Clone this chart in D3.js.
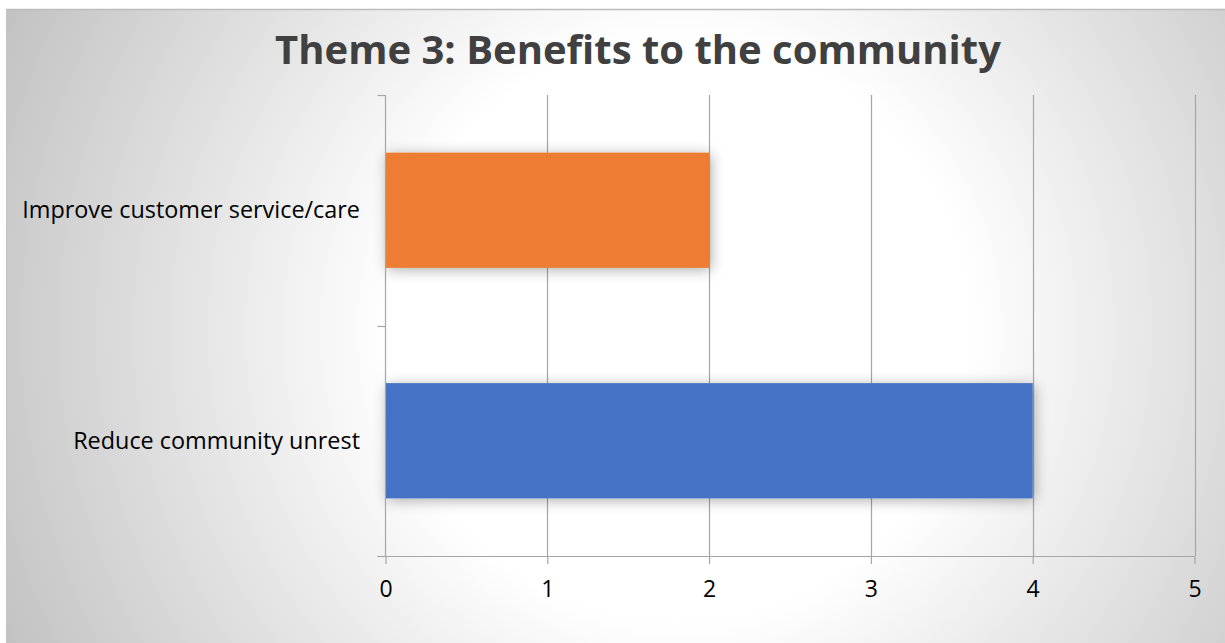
<!DOCTYPE html>
<html>
<head>
<meta charset="utf-8">
<script src="https://cdn.jsdelivr.net/npm/d3@7"></script>
<style>
  html, body { margin: 0; padding: 0; background: #ffffff; }
  svg { display: block; }
</style>
</head>
<body>
<svg id="chart" width="1225" height="643"></svg>
<script>
// Chart data
const title = "Theme 3: Benefits to the community";
const categories = ["Improve customer service/care", "Reduce community unrest"];
const values = [2, 4];
const barColors = ["#ED7D31", "#4472C4"];
const xTicks = [0, 1, 2, 3, 4, 5];

const W = 1225, H = 643;
const frame = { left: 6, top: 9 };
const plot = { left: 385.5, right: 1194.5, top: 95, bottom: 556 };

const svg = d3.select("#chart");
const defs = svg.append("defs");

// Soft radial backdrop: white around the plot, grey towards the corners
const grad = defs.append("radialGradient")
  .attr("id", "bg")
  .attr("gradientUnits", "userSpaceOnUse")
  .attr("cx", 680).attr("cy", 330).attr("r", 760);
grad.append("stop").attr("offset", 0).attr("stop-color", "#ffffff");
grad.append("stop").attr("offset", 0.38).attr("stop-color", "#ffffff");
grad.append("stop").attr("offset", 1).attr("stop-color", "#c0c0c0");

const shadow = defs.append("filter")
  .attr("id", "shadow")
  .attr("x", "-20%").attr("y", "-40%")
  .attr("width", "140%").attr("height", "180%");
shadow.append("feDropShadow")
  .attr("dx", 2).attr("dy", 2)
  .attr("stdDeviation", 7)
  .attr("flood-color", "#000")
  .attr("flood-opacity", 0.32);

svg.append("rect")
  .attr("x", frame.left).attr("y", frame.top)
  .attr("width", W - frame.left).attr("height", H - frame.top)
  .attr("fill", "url(#bg)");
// frame edges
svg.append("line")
  .attr("x1", frame.left).attr("x2", W)
  .attr("y1", frame.top + 0.5).attr("y2", frame.top + 0.5)
  .attr("stroke", "#bdbdbd").attr("stroke-width", 1.5);
svg.append("line")
  .attr("x1", frame.left + 0.5).attr("x2", frame.left + 0.5)
  .attr("y1", frame.top).attr("y2", H)
  .attr("stroke", "#c4c4c4").attr("stroke-width", 1);

const x = d3.scaleLinear().domain([0, 5]).range([plot.left, plot.right]);
const y = d3.scaleBand()
  .domain(categories)
  .range([plot.top, plot.bottom])
  .paddingInner(0.5)
  .paddingOuter(0.25);

// Vertical gridlines
svg.append("g")
  .selectAll("line")
  .data(xTicks.filter(d => d > 0))
  .join("line")
  .attr("x1", d => Math.round(x(d)) + 0.5)
  .attr("x2", d => Math.round(x(d)) + 0.5)
  .attr("y1", plot.top).attr("y2", plot.bottom)
  .attr("stroke", "#a6a6a6").attr("stroke-width", 1.2);

// Bars
svg.append("g")
  .selectAll("rect")
  .data(categories.map((c, i) => ({ c, v: values[i], color: barColors[i] })))
  .join("rect")
  .attr("x", x(0))
  .attr("y", d => y(d.c))
  .attr("width", d => x(d.v) - x(0))
  .attr("height", y.bandwidth())
  .attr("fill", d => d.color)
  .attr("filter", "url(#shadow)");

// Bottom axis
const xAxis = d3.axisBottom(x)
  .tickValues(xTicks)
  .tickSize(8)
  .tickPadding(17)
  .tickFormat(d3.format("d"));
const gx = svg.append("g")
  .attr("transform", `translate(0,${plot.bottom})`)
  .call(xAxis);
gx.select(".domain").remove();
gx.append("line")
  .attr("x1", plot.left - 8).attr("x2", plot.right)
  .attr("y1", 0.5).attr("y2", 0.5)
  .attr("stroke", "#a6a6a6").attr("stroke-width", 1.2);
gx.selectAll(".tick line").attr("stroke", "#a6a6a6").attr("stroke-width", 1.2);
gx.selectAll(".tick text")
  .attr("fill", "#000")
  .style("font-family", "'Open Sans', 'Noto Sans', sans-serif")
  .style("font-size", "23px");

// Left axis: line with ticks on category boundaries
const gy = svg.append("g");
gy.append("line")
  .attr("x1", plot.left).attr("x2", plot.left)
  .attr("y1", plot.top).attr("y2", plot.bottom)
  .attr("stroke", "#a6a6a6").attr("stroke-width", 1.2);
const bounds = [plot.top, (plot.top + plot.bottom) / 2, plot.bottom];
gy.selectAll("line.b")
  .data(bounds)
  .join("line")
  .attr("class", "b")
  .attr("x1", plot.left - 8).attr("x2", plot.left)
  .attr("y1", d => Math.round(d) + 0.5).attr("y2", d => Math.round(d) + 0.5)
  .attr("stroke", "#a6a6a6").attr("stroke-width", 1.2);

// Category labels
svg.append("g")
  .selectAll("text")
  .data(categories)
  .join("text")
  .attr("x", 360)
  .attr("y", d => y(d) + y.bandwidth() / 2)
  .attr("dy", "0.35em")
  .attr("text-anchor", "end")
  .attr("fill", "#000")
  .style("font-family", "'Open Sans', 'Noto Sans', sans-serif")
  .style("font-size", "23.4px")
  .text(d => d);

// Title
svg.append("text")
  .attr("x", 638)
  .attr("y", 64)
  .attr("text-anchor", "middle")
  .attr("fill", "#404040")
  .style("font-family", "'Open Sans', 'Noto Sans', sans-serif")
  .style("font-weight", "bold")
  .style("font-size", "40px")
  .text(title);
</script>
</body>
</html>
